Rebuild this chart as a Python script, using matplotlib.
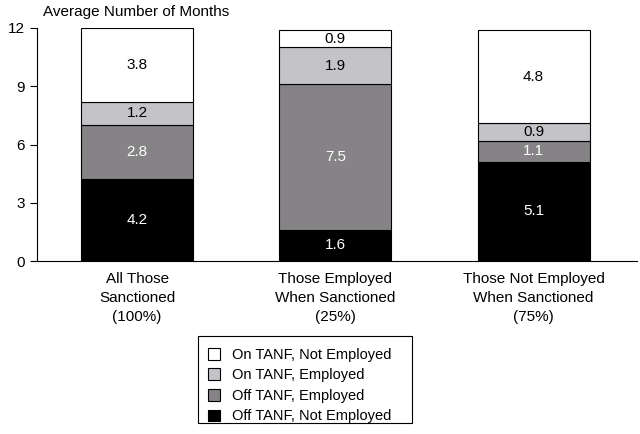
import matplotlib
matplotlib.use("Agg")
import matplotlib.pyplot as plt
from matplotlib.patches import Patch, Rectangle

plt.rcParams['font.family'] = ['Liberation Sans', 'DejaVu Sans']

categories = ["All Those\nSanctioned\n(100%)",
              "Those Employed\nWhen Sanctioned\n(25%)",
              "Those Not Employed\nWhen Sanctioned\n(75%)"]
series_names = ["Off TANF, Not Employed", "Off TANF, Employed",
                "On TANF, Employed", "On TANF, Not Employed"]
off_not_emp = [4.2, 1.6, 5.1]
off_emp = [2.8, 7.5, 1.1]
on_emp = [1.2, 1.9, 0.9]
on_not_emp = [3.8, 0.9, 4.8]
yticks = [0, 3, 6, 9, 12]

series = [off_not_emp, off_emp, on_emp, on_not_emp]
colors = ["#000000", "#858385", "#c4c3c8", "#ffffff"]
text_colors = ["white", "white", "black", "black"]

fig = plt.figure(figsize=(6.4, 4.34), dpi=100)
ax = fig.add_axes([0.058, 0.3986, 0.937, 0.5369])

x = list(range(len(categories)))
bottoms = [0.0] * len(categories)
for vals, col, tcol in zip(series, colors, text_colors):
    ax.bar(x, vals, width=0.564, bottom=bottoms, color=col,
           edgecolor="black", linewidth=0.8)
    for xi, v, b in zip(x, vals, bottoms):
        ax.text(xi, b + v / 2, f"{v:.1f}", ha="center", va="center",
                color=tcol, fontsize=11)
    bottoms = [b + v for b, v in zip(bottoms, vals)]

ax.set_xlim(-0.504, 2.52)
ax.set_ylim(0, 12)
ax.set_yticks(yticks)
ax.set_yticklabels([str(t) for t in yticks], fontsize=11)
ax.set_xticks(x)
ax.set_xticklabels(categories, fontsize=11, linespacing=1.45)
ax.tick_params(axis="x", length=0, pad=8)
ax.tick_params(axis="y", length=5, width=0.8, pad=4)
for s in ["top", "right"]:
    ax.spines[s].set_visible(False)
for s in ["left", "bottom"]:
    ax.spines[s].set_linewidth(0.8)

fig.text(43 / 640, 1 - 12 / 434, "Average Number of Months", ha="left",
         va="center", fontsize=11)

handles = [Patch(facecolor=c, edgecolor="black", linewidth=0.8)
           for c in colors[::-1]]
leg = fig.legend(handles, series_names[::-1], loc="lower left",
                 bbox_to_anchor=(201 / 640, 4 / 434), frameon=False,
                 fontsize=10.5,
                 handlelength=0.85, handleheight=0.85, labelspacing=0.45,
                 borderpad=0.45, handletextpad=0.8, borderaxespad=0)
fig.add_artist(Rectangle((198 / 640, 1 - 423 / 434), 214 / 640, 87 / 434,
                         transform=fig.transFigure, fill=False,
                         edgecolor="black", linewidth=0.8))

fig.savefig("out.png", dpi=100)
